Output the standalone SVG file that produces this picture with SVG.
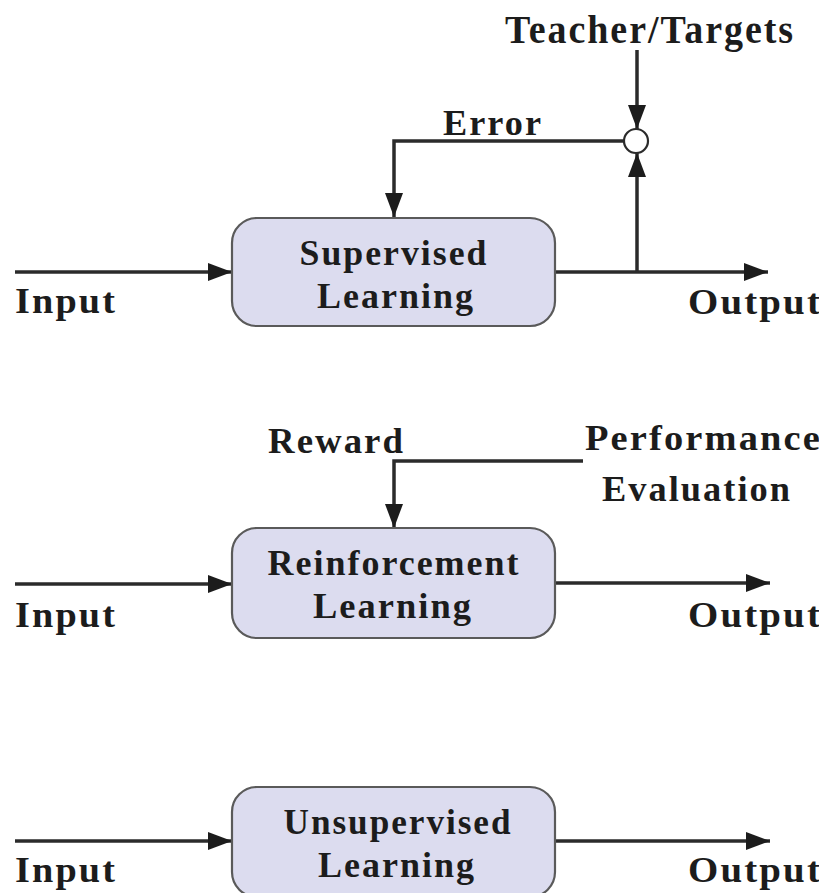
<svg xmlns="http://www.w3.org/2000/svg" width="819" height="893" viewBox="0 0 819 893">
<style>
.bg{fill:#ffffff}
.box{fill:#dcdcef;stroke:#5a5a5a;stroke-width:2.2}
.t{font-family:"Liberation Serif","Times New Roman",serif;font-weight:bold;font-size:36px;letter-spacing:2px;fill:#1c1c1c}
.c{text-anchor:middle}
.ln{fill:none;stroke:#2b2b2b;stroke-width:3.5}
.arr{fill:none;stroke:#2b2b2b;stroke-width:3.5;marker-end:url(#ah)}
.sum{fill:#ffffff;stroke:#2b2b2b;stroke-width:2.2}
</style>
<defs>
<marker id="ah" markerUnits="userSpaceOnUse" markerWidth="26" markerHeight="20" refX="24" refY="9" orient="auto">
<path d="M0,0 L24,9 L0,18 z" fill="#1c1c1c"/>
</marker>
</defs>
<rect class="bg" x="0" y="0" width="819" height="893"/>

<g id="connectors">
<line class="arr" x1="15" y1="272" x2="232" y2="272"/>
<line class="arr" x1="555" y1="272" x2="768" y2="272"/>
<line class="arr" x1="637" y1="272" x2="637" y2="153"/>
<line class="arr" x1="637" y1="50" x2="637" y2="129"/>
<path class="arr" d="M624,141 H394 V217"/>
<line class="arr" x1="15" y1="584" x2="232" y2="584"/>
<line class="arr" x1="555" y1="583" x2="770" y2="583"/>
<path class="arr" d="M583,461 H394 V528"/>
<line class="arr" x1="15" y1="841" x2="232" y2="841"/>
<line class="arr" x1="555" y1="841" x2="770" y2="841"/>
</g>

<g id="summing-junction">
<circle class="sum" cx="636" cy="141" r="12"/>
</g>

<g id="supervised">
<rect class="box" x="232" y="218" width="323" height="108" rx="25"/>
<text class="t c" x="394" y="265" textLength="189" lengthAdjust="spacingAndGlyphs">Supervised</text>
<text class="t c" x="396" y="308" textLength="158" lengthAdjust="spacingAndGlyphs">Learning</text>
</g>

<g id="reinforcement">
<rect class="box" x="232" y="528" width="323" height="110" rx="25"/>
<text class="t c" x="394" y="575" textLength="253" lengthAdjust="spacingAndGlyphs">Reinforcement</text>
<text class="t c" x="393" y="618" textLength="160" lengthAdjust="spacingAndGlyphs">Learning</text>
</g>

<g id="unsupervised">
<rect class="box" x="232" y="787" width="323" height="110" rx="25"/>
<text class="t c" x="398" y="834" textLength="229" lengthAdjust="spacingAndGlyphs">Unsupervised</text>
<text class="t c" x="397" y="877" textLength="158" lengthAdjust="spacingAndGlyphs">Learning</text>
</g>

<g id="labels">
<text class="t" x="505" y="43" style="font-size:39px" textLength="290" lengthAdjust="spacingAndGlyphs">Teacher/Targets</text>
<text class="t" x="443" y="135" textLength="100" lengthAdjust="spacingAndGlyphs">Error</text>
<text class="t" x="15" y="313" textLength="102" lengthAdjust="spacingAndGlyphs">Input</text>
<text class="t" x="688" y="314" textLength="134" lengthAdjust="spacingAndGlyphs">Output</text>
<text class="t" x="268" y="453" textLength="137" lengthAdjust="spacingAndGlyphs">Reward</text>
<text class="t" x="585" y="450" textLength="237" lengthAdjust="spacingAndGlyphs">Performance</text>
<text class="t" x="602" y="501" textLength="190" lengthAdjust="spacingAndGlyphs">Evaluation</text>
<text class="t" x="15" y="627" textLength="102" lengthAdjust="spacingAndGlyphs">Input</text>
<text class="t" x="688" y="627" textLength="134" lengthAdjust="spacingAndGlyphs">Output</text>
<text class="t" x="15" y="882" textLength="102" lengthAdjust="spacingAndGlyphs">Input</text>
<text class="t" x="688" y="882" textLength="134" lengthAdjust="spacingAndGlyphs">Output</text>
</g>
</svg>
